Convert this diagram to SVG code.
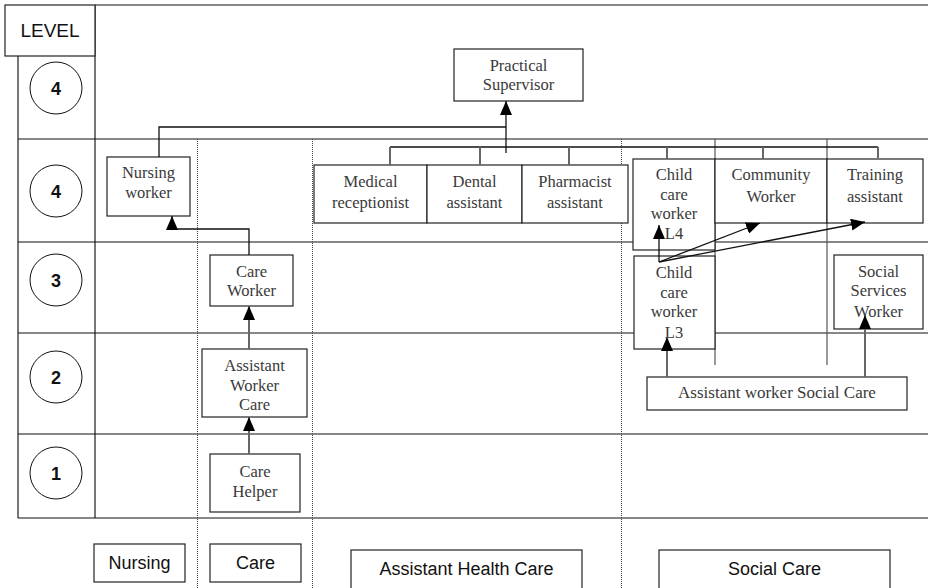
<svg xmlns="http://www.w3.org/2000/svg" width="928" height="588" viewBox="0 0 928 588">
<style>
.bg{fill:#fff}
.box{fill:#fff;stroke:#222;stroke-width:1.2}
.frame{stroke:#111;stroke-width:1.2;fill:none}
.gframe{stroke:#777;stroke-width:2;fill:none}
.dot{stroke:#444;stroke-width:1;stroke-dasharray:1 1;fill:none}
.sep{stroke:#555;stroke-width:1.2;fill:none}
.lbl{font-family:"Liberation Serif","Times New Roman",serif;font-size:16.5px;fill:#3a3a3a;text-anchor:middle}
.num{font-family:"Liberation Sans",Arial,sans-serif;font-size:18px;font-weight:bold;fill:#111;text-anchor:middle}
.sans{font-family:"Liberation Sans",Arial,sans-serif;font-size:18px;fill:#111;text-anchor:middle}
.circ{fill:#fff;stroke:#111;stroke-width:1}
.con{stroke:#111;stroke-width:1.3;fill:none}
.gcon{stroke:#666;stroke-width:2;fill:none}
</style>
<defs>
<marker id="ah" markerUnits="userSpaceOnUse" markerWidth="14" markerHeight="12" refX="14" refY="6" orient="auto">
<path d="M0,0 L14,6 L0,12 z" fill="#000"/>
</marker>
</defs>
<rect class="bg" x="0" y="0" width="928" height="588"/>
<g id="frame">
<line class="frame" x1="95" y1="5" x2="928" y2="5"/>
<line class="gframe" x1="18" y1="56" x2="18" y2="518"/>
<line class="gframe" x1="95" y1="5" x2="95" y2="518"/>
<line class="frame" x1="18" y1="139" x2="928" y2="139"/>
<line class="frame" x1="18" y1="242" x2="928" y2="242"/>
<line class="frame" x1="18" y1="333" x2="928" y2="333"/>
<line class="frame" x1="18" y1="434" x2="928" y2="434"/>
<line class="frame" x1="18" y1="518" x2="928" y2="518"/>
<line class="dot" x1="197.5" y1="139" x2="197.5" y2="588"/>
<line class="dot" x1="312.5" y1="139" x2="312.5" y2="588"/>
<line class="dot" x1="621.5" y1="139" x2="621.5" y2="588"/>
<line class="sep" x1="715" y1="139" x2="715" y2="365"/>
<line class="sep" x1="827" y1="139" x2="827" y2="365"/>
</g>
<g id="level-header">
<rect class="box" x="5" y="5" width="90" height="51"/>
<text class="sans" x="50" y="37" style="font-size:19px">LEVEL</text>
</g>
<g id="level-4a"><circle class="circ" cx="56" cy="88" r="26"/><text class="num" x="56" y="94.5">4</text></g>
<g id="level-4b"><circle class="circ" cx="56" cy="191" r="26"/><text class="num" x="56" y="197.5">4</text></g>
<g id="level-3"><circle class="circ" cx="56" cy="280" r="26"/><text class="num" x="56" y="286.5">3</text></g>
<g id="level-2"><circle class="circ" cx="56" cy="377" r="26"/><text class="num" x="56" y="383.5">2</text></g>
<g id="level-1"><circle class="circ" cx="56" cy="473" r="26"/><text class="num" x="56" y="479.5">1</text></g>

<g id="practical-supervisor">
<rect class="box" x="454" y="49" width="129" height="52"/>
<text class="lbl" x="518.5" y="71">Practical</text>
<text class="lbl" x="518.5" y="90">Supervisor</text>
</g>
<g id="nursing-worker">
<rect class="box" x="107" y="157" width="83" height="59"/>
<text class="lbl" x="148.5" y="178">Nursing</text>
<text class="lbl" x="148.5" y="198">worker</text>
</g>
<g id="medical-receptionist">
<rect class="box" x="314" y="165" width="113" height="58"/>
<text class="lbl" x="370.5" y="187">Medical</text>
<text class="lbl" x="370.5" y="208">receptionist</text>
</g>
<g id="dental-assistant">
<rect class="box" x="427" y="165" width="95" height="58"/>
<text class="lbl" x="474.5" y="187">Dental</text>
<text class="lbl" x="474.5" y="208">assistant</text>
</g>
<g id="pharmacist-assistant">
<rect class="box" x="522" y="165" width="106" height="58"/>
<text class="lbl" x="575" y="187">Pharmacist</text>
<text class="lbl" x="575" y="208">assistant</text>
</g>
<g id="child-care-worker-l4">
<rect class="box" x="633" y="159" width="82" height="91"/>
<text class="lbl" x="674" y="180">Child</text>
<text class="lbl" x="674" y="200">care</text>
<text class="lbl" x="674" y="219">worker</text>
<text class="lbl" x="674" y="239">L4</text>
</g>
<g id="community-worker">
<rect class="box" x="715" y="159" width="112" height="64"/>
<text class="lbl" x="771" y="180">Community</text>
<text class="lbl" x="771" y="202">Worker</text>
</g>
<g id="training-assistant">
<rect class="box" x="827" y="159" width="96" height="64"/>
<text class="lbl" x="875" y="180">Training</text>
<text class="lbl" x="875" y="202">assistant</text>
</g>
<g id="child-care-worker-l3">
<rect class="box" x="634" y="256" width="81" height="93"/>
<text class="lbl" x="674" y="278">Child</text>
<text class="lbl" x="674" y="298">care</text>
<text class="lbl" x="674" y="317">worker</text>
<text class="lbl" x="674" y="338">L3</text>
</g>
<g id="social-services-worker">
<rect class="box" x="834" y="255" width="89" height="74"/>
<text class="lbl" x="878.5" y="277">Social</text>
<text class="lbl" x="878.5" y="296">Services</text>
<text class="lbl" x="878.5" y="317">Worker</text>
</g>
<g id="assistant-worker-social-care">
<rect class="box" x="647" y="377" width="260" height="33"/>
<text class="lbl" x="777" y="398" style="font-size:17px">Assistant worker Social Care</text>
</g>
<g id="care-worker">
<rect class="box" x="210" y="255" width="83" height="51"/>
<text class="lbl" x="251.5" y="277">Care</text>
<text class="lbl" x="251.5" y="296">Worker</text>
</g>
<g id="assistant-worker-care">
<rect class="box" x="202" y="349" width="105" height="68"/>
<text class="lbl" x="254.5" y="371">Assistant</text>
<text class="lbl" x="254.5" y="391">Worker</text>
<text class="lbl" x="254.5" y="410">Care</text>
</g>
<g id="care-helper">
<rect class="box" x="210" y="454" width="90" height="58"/>
<text class="lbl" x="255" y="477">Care</text>
<text class="lbl" x="255" y="497">Helper</text>
</g>
<g id="cat-nursing">
<rect class="box" x="94" y="544" width="91" height="38"/>
<text class="sans" x="139.5" y="569">Nursing</text>
</g>
<g id="cat-care">
<rect class="box" x="210" y="544" width="91" height="38"/>
<text class="sans" x="255.5" y="569">Care</text>
</g>
<g id="cat-assistant-health-care">
<rect class="box" x="351" y="550" width="231" height="44"/>
<text class="sans" x="466.5" y="575">Assistant Health Care</text>
</g>
<g id="cat-social-care">
<rect class="box" x="659" y="550" width="231" height="44"/>
<text class="sans" x="774.5" y="575">Social Care</text>
</g>

<g id="connectors">
<polyline class="con" points="159,157 159,127 506,127"/>
<line class="con" x1="506" y1="153" x2="506" y2="101" marker-end="url(#ah)"/>
<line class="con" x1="390" y1="147" x2="878" y2="147"/>
<line class="gcon" x1="390" y1="147" x2="390" y2="165"/>
<line class="gcon" x1="480" y1="147" x2="480" y2="165"/>
<line class="gcon" x1="569" y1="147" x2="569" y2="165"/>
<line class="gcon" x1="667" y1="147" x2="667" y2="159"/>
<line class="gcon" x1="763" y1="147" x2="763" y2="159"/>
<line class="gcon" x1="878" y1="147" x2="878" y2="158"/>
<polyline class="con" points="249,255 249,229 172,229 172,216" marker-end="url(#ah)"/>
<line class="gcon" x1="249" y1="349" x2="249" y2="306" marker-end="url(#ah)"/>
<line class="gcon" x1="249" y1="454" x2="249" y2="417" marker-end="url(#ah)"/>
<line class="gcon" x1="667" y1="377" x2="667" y2="337" marker-end="url(#ah)"/>
<line class="gcon" x1="865" y1="377" x2="865" y2="315" marker-end="url(#ah)"/>
<line class="con" x1="659" y1="262" x2="659" y2="225" marker-end="url(#ah)"/>
<line class="con" x1="659" y1="262" x2="760" y2="223" marker-end="url(#ah)"/>
<line class="con" x1="659" y1="262" x2="865" y2="222" marker-end="url(#ah)"/>
</g>
</svg>
